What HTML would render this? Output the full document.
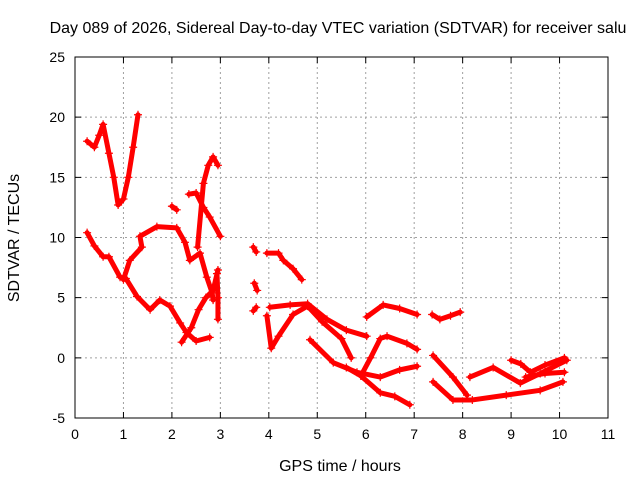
<!DOCTYPE html>
<html><head><meta charset="utf-8"><style>
body{margin:0;background:#fff}
svg{display:block;font-family:"Liberation Sans",sans-serif}
</style></head><body>
<svg id="chart" width="640" height="480" viewBox="0 0 640 480" xmlns="http://www.w3.org/2000/svg">
<text x="338" y="33" font-size="16" text-anchor="middle">Day 089 of 2026, Sidereal Day-to-day VTEC variation (SDTVAR) for receiver salu</text>
<text x="340" y="471" font-size="16" text-anchor="middle">GPS time / hours</text>
<text transform="translate(19,238) rotate(-90)" font-size="16" text-anchor="middle">SDTVAR / TECUs</text>
<g id="grid"></g><g id="axes"></g><g id="marks"></g>
<rect x="75" y="57" width="533" height="361" fill="none" stroke="#000" stroke-width="1"/>
</svg>
<script>
const xTicks=[0,1,2,3,4,5,6,7,8,9,10,11];
const yTicks=[-5,0,5,10,15,20,25];
const trackA=[[0.25,18],[0.4,17.5],[0.5,18.5],[0.58,19.4],[0.7,17],[0.8,15],[0.89,12.7],[1.0,13.2],[1.1,15],[1.2,17.5],[1.3,20.2]];
const trackB=[[0.25,10.4],[0.4,9.3],[0.58,8.4],[0.7,8.4],[0.93,6.7],[1.05,6.6],[1.28,5.1],[1.55,4],[1.75,4.8],[1.96,4.3],[2.17,2.9],[2.3,2.1],[2.5,1.4],[2.78,1.7]];
const trackC=[[1.0,6.5],[1.13,8.1],[1.38,9.2],[1.34,10.1],[1.69,10.9],[2.1,10.8],[2.27,9.6],[2.37,8.1],[2.58,8.7],[2.72,6.7],[2.83,5.4],[2.85,4.8]];
const trackD=[[2.2,1.3],[2.4,2.5],[2.55,4],[2.7,5],[2.85,5.6],[2.95,7.3]];
const trackE=[[2.35,13.6],[2.5,13.7],[2.65,12.5],[2.78,11.7],[3.0,10.1]];
const trackE2=[[2.53,9.2],[2.65,14.5],[2.75,16],[2.85,16.7],[2.95,16]];
const trackE3=[[2.0,12.6],[2.1,12.3]];
const trackE4=[[2.93,7],[2.95,5],[2.95,3.2]];
const trackF0=[[3.68,9.2],[3.74,8.8]];
const trackF=[[3.96,8.7],[4.2,8.7],[4.3,8.1],[4.5,7.4],[4.68,6.5]];
const trackF1=[[3.7,6.2],[3.76,5.6]];
const trackF2=[[3.68,3.9],[3.74,4.2]];
const trackG=[[4.02,4.2],[4.44,4.4],[4.8,4.5],[5.2,3.2],[5.6,2.3],[6.02,1.8]];
const trackH=[[3.96,3.5],[4.05,0.8],[4.2,1.8],[4.5,3.6],[4.8,4.3],[5.1,3],[5.5,1.6],[5.7,0]];
const trackI=[[4.85,1.5],[5.33,-0.4],[5.82,-1.2],[6.3,-1.6],[6.7,-1],[7.06,-0.7]];
const trackJ=[[6.02,3.4],[6.36,4.4],[6.7,4.1],[7.06,3.6]];
const trackK=[[5.9,-1.5],[6.1,0],[6.3,1.6],[6.44,1.8],[6.85,1.2],[7.06,0.7]];
const trackL=[[5.6,-0.8],[5.9,-1.5],[6.3,-2.9],[6.6,-3.2],[6.91,-3.9]];
const trackM=[[7.37,3.6],[7.53,3.2],[7.75,3.5],[7.95,3.8]];
const trackN=[[7.39,0.2],[7.8,-1.6],[8.09,-3.1]];
const trackO=[[7.39,-2],[7.8,-3.5],[8.2,-3.5],[8.9,-3.1],[9.6,-2.7],[10.07,-2.0]];
const trackP=[[8.15,-1.6],[8.63,-0.8],[9.19,-2.1],[9.6,-1.3],[10.15,-0.2]];
const trackQ=[[9.0,-0.2],[9.2,-0.5],[9.4,-1.2],[9.7,-0.6],[10.1,0]];
const trackR=[[9.3,-1.6],[9.7,-1.3],[10.1,-1.2]];
const tracks=[trackA,trackB,trackC,trackD,trackE,trackE2,trackE3,trackE4,trackF0,trackF,trackF1,trackF2,trackG,trackH,trackI,trackJ,trackK,trackL,trackM,trackN,trackO,trackP,trackQ,trackR];

const L=75,R=608,T=57,B=418,xMin=0,xMax=11,yMin=-5,yMax=25;
function xs(v){return L+(v-xMin)/(xMax-xMin)*(R-L);}
function ys(v){return B-(v-yMin)/(yMax-yMin)*(B-T);}
const NS="http://www.w3.org/2000/svg";
function mk(tag,attrs,parent){const e=document.createElementNS(NS,tag);for(const k in attrs)e.setAttribute(k,attrs[k]);parent.appendChild(e);return e;}
const grid=document.getElementById('grid'),axes=document.getElementById('axes'),marks=document.getElementById('marks');
xTicks.forEach(t=>{
  const x=xs(t);
  if(t>xMin&&t<xMax){const g=mk('line',{x1:x,x2:x,y1:T,y2:B,stroke:'#a0a0a0','stroke-dasharray':'2,3'},grid);
  
  }
  const tk=mk('path',{d:`M${x},${B}v-6M${x},${T}v6`,stroke:'#000'},axes);
  
  
  const lb=mk('text',{x:x,y:B+21,'font-size':14,'text-anchor':'middle'},axes);lb.textContent=t;
  
  
});
yTicks.forEach(t=>{
  const y=ys(t);
  if(t>yMin&&t<yMax){const g=mk('line',{x1:L,x2:R,y1:y,y2:y,stroke:'#a0a0a0','stroke-dasharray':'2,3'},grid);
  
  }
  const tk=mk('path',{d:`M${L},${y}h6M${R},${y}h-6`,stroke:'#000'},axes);
  
  
  const lb=mk('text',{x:L-10,y:y+5,'font-size':14,'text-anchor':'end'},axes);lb.textContent=t;
  
  
});
tracks.forEach((tr,i)=>{
  const pl=mk('polyline',{points:tr.map(p=>xs(p[0])+','+ys(p[1])).join(' '),fill:'none',stroke:'#f00','stroke-width':5,'stroke-linejoin':'round','stroke-linecap':'round'},marks);
  
  
  tr.forEach(p=>{
    const x=xs(p[0]),y=ys(p[1]);
    const m=mk('path',{d:`M${x-4},${y}h8M${x},${y-4}v8`,stroke:'#f00','stroke-width':1.2},marks);
    
    
  });
});
</script>
</body></html>
